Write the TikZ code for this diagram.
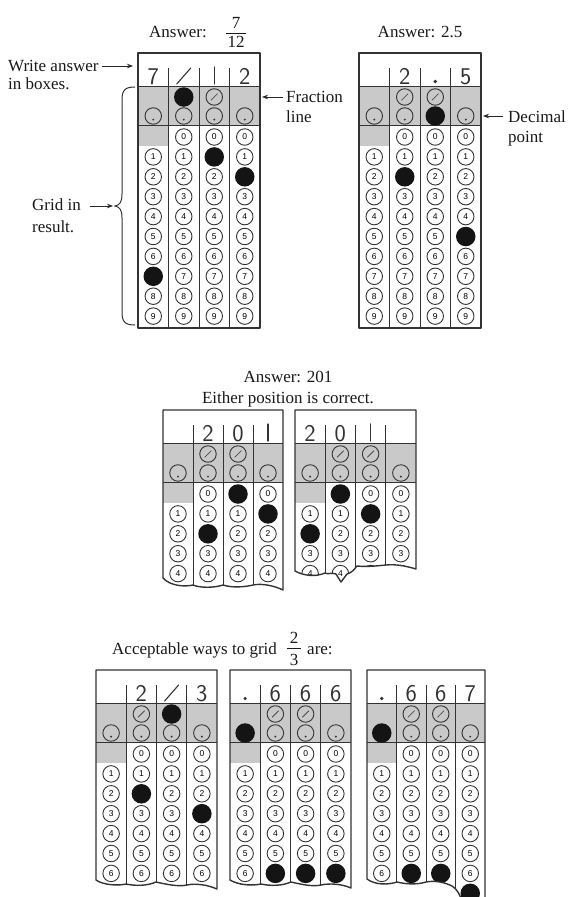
\documentclass[tikz,border=0pt]{standalone}
\usepackage{fontspec}
\setmainfont{Liberation Serif}
\newfontfamily\bubfont{Liberation Sans}
\usetikzlibrary{arrows.meta}
\definecolor{band}{gray}{0.79}
\definecolor{ink}{gray}{0.2}
\tikzset{
  gridframe/.style={draw=ink, line width=1.4pt, line join=round},
  sepline/.style={draw=ink, line width=0.9pt},
  bub/.style={circle, draw=ink, line width=0.9pt, minimum size=16.5pt, inner sep=0pt, font=\bubfont\fontsize{8.5}{9}\selectfont, text=black},
  bubslash/.style={bub, path picture={\draw[line width=0.6pt, ink] (path picture bounding box.center) ++(-3.3pt,-3.3pt) -- ++(6.6pt,6.6pt);}},
  bubdot/.style={bub, path picture={\fill[ink] (path picture bounding box.center) ++(0pt,-3.6pt) circle (1.1pt);}},
  filledbub/.style={circle, fill=black!92, minimum size=19.5pt, inner sep=0pt},
  lbl/.style={font=\fontsize{17}{19}\selectfont, inner sep=0pt, text=black!90},
  hw/.style={font=\sffamily\fontsize{24}{25}\selectfont, inner sep=0pt, anchor=base, text=ink},
  hwline/.style={draw=ink, line width=1.1pt, line cap=round},
  pointer/.style={-{Stealth[length=6pt,width=4.5pt]}, line width=0.9pt, draw=black!85},
}
\newcommand\omrgrid[7]{%
\def\gL{#2}\def\gT{#3}\def\gW{#4}\def\gN{#1}%
\begin{scope}
\clip (#2,#3) -- ({#2+4*#4},#3) #6 -- cycle;
\fill[band] (#2,{#3+33}) rectangle ({#2+4*#4},{#3+72});
\fill[band] (#2,{#3+72}) rectangle ({#2+#4},{#3+93});
\draw[sepline] (#2,{#3+33}) -- ({#2+4*#4},{#3+33});
\draw[sepline] (#2,{#3+72}) -- ({#2+4*#4},{#3+72});
\foreach \cl in {1,2,3} \draw[sepline] ({#2+\cl*#4},{#3+15}) -- ({#2+\cl*#4},{#3+520});
\foreach \cl in {2,3} \node[bubslash] (#1-s\cl) at ({#2+(\cl-0.5)*#4},{#3+44}) {};
\foreach \cl in {1,...,4} \node[bubdot] (#1-d\cl) at ({#2+(\cl-0.5)*#4},{#3+63}) {};
\foreach \rw in {0,...,#5} \foreach \cl in {2,3,4} \node[bub] (#1-\cl-\rw) at ({#2+(\cl-0.5)*#4},{#3+84+19.9*\rw}) {\rw};
\foreach \rw in {1,...,#5} \node[bub] (#1-1-\rw) at ({#2+0.5*#4},{#3+84+19.9*\rw}) {\rw};
#7
\end{scope}
\draw[gridframe] (#2,#3) -- ({#2+4*#4},#3) #6 -- cycle;
}
\newcommand\omrmark[2]{\node[filledbub] (\gN-m#1-#2) at ({\gL+(#1-0.5)*\gW},{\gT+84+19.9*#2}) {};}
\newcommand\omrmarkS[1]{\node[filledbub] (\gN-ms#1) at ({\gL+(#1-0.5)*\gW},{\gT+44}) {};}
\newcommand\omrmarkD[1]{\node[filledbub] (\gN-md#1) at ({\gL+(#1-0.5)*\gW},{\gT+63}) {};}
\newcommand\hwd[2]{\node[hw] (\gN-h#1) at ({\gL+(#1-0.5)*\gW},{\gT+31}) {#2};}
\newcommand\hwone[1]{\draw[hwline] ({\gL+(#1-0.5)*\gW},{\gT+14}) -- ({\gL+(#1-0.5)*\gW},{\gT+31});}
\newcommand\hwslash[1]{\draw[hwline] ({\gL+(#1-0.5)*\gW-7},{\gT+31}) -- ({\gL+(#1-0.5)*\gW+7},{\gT+15});}
\newcommand\hwdot[1]{\fill[ink] ({\gL+(#1-0.5)*\gW},{\gT+28.5}) circle (1.8pt);}
\begin{document}
\begin{tikzpicture}[x=1pt,y=-1pt]
\useasboundingbox (0,0) rectangle (571,897);
\fill[white] (0,0) rectangle (571,897);

% ---------- top labels ----------
\node[lbl, anchor=base west] (ans1) at (149,37.5) {Answer:};
\node[lbl, anchor=base] (ans1n) at (236,28.5) {7};
\node[lbl, anchor=base] (ans1d) at (236,47.5) {12};
\draw[line width=0.8pt, black!90] (226,33) -- (246,33);
\node[lbl, anchor=base] (ans2) at (420,37.5) {Answer: 2.5};

\node[lbl, anchor=base west] (wa1) at (8,71) {Write answer};
\node[lbl, anchor=base west] (wa2) at (8,89) {in boxes.};
\coordinate (wa-s) at (102,66); \coordinate (wa-e) at (133,66);
\draw[pointer] (wa-s) -- (wa-e);

\node[lbl, anchor=base west] (fl1) at (286,102) {Fraction};
\node[lbl, anchor=base west] (fl2) at (286,122) {line};
\coordinate (fl-s) at (283,97); \coordinate (fl-e) at (262,97);
\draw[pointer] (fl-s) -- (fl-e);

\node[lbl, anchor=base west] (dp1) at (508,122) {Decimal};
\node[lbl, anchor=base west] (dp2) at (508,142) {point};
\coordinate (dp-s) at (503,116); \coordinate (dp-e) at (483,116);
\draw[pointer] (dp-s) -- (dp-e);

\node[lbl, anchor=base west] (gr1) at (32,210) {Grid in};
\node[lbl, anchor=base west] (gr2) at (32,232) {result.};
\coordinate (gr-s) at (90,206); \coordinate (gr-e) at (113,206);
\draw[pointer] (gr-s) -- (gr-e);

\draw[line width=1pt, ink] (135,87) .. controls (125,87) and (122,90) .. (122,100) -- (122,194) .. controls (122,202) and (120,205) .. (115,206) .. controls (120,207) and (122,210) .. (122,218) -- (122,312) .. controls (122,322) and (125,325) .. (135,325);

% ---------- top grids ----------
\omrgrid{ga}{138}{53}{30.5}{9}{-- (260,328) -- (138,328)}{%
  \hwd{1}{7}\hwslash{2}\hwone{3}\hwd{4}{2}%
  \omrmark{1}{7}\omrmarkS{2}\omrmark{3}{1}\omrmark{4}{2}}
\omrgrid{gb}{359}{53}{30.5}{9}{-- (481,328) -- (359,328)}{%
  \hwd{2}{2}\hwdot{3}\hwd{4}{5}%
  \omrmark{2}{2}\omrmarkD{3}\omrmark{4}{5}}

% ---------- middle ----------
\node[lbl, anchor=base] (ans3) at (288,382) {Answer: 201};
\node[lbl, anchor=base] (ans3b) at (288,403) {Either position is correct.};

\omrgrid{gc}{163}{410}{30}{4}{-- (283,590) .. controls (275,586) and (262,583) .. (253,585) .. controls (245,587) and (232,588) .. (223,585) .. controls (214,588) and (200,588) .. (193,585) .. controls (185,587) and (170,586) .. (163,578)}{%
  \hwd{2}{2}\hwd{3}{0}\hwone{4}%
  \omrmark{2}{2}\omrmark{3}{0}\omrmark{4}{1}}
\omrgrid{gd}{295}{410}{30.25}{4}{-- (416,569) .. controls (406,566) and (396,564) .. (386,565) .. controls (376,566) and (366,567) .. (357,566) .. controls (354,570) and (351,573) .. (347,574) -- (341,582) -- (336,574) .. controls (331,572) and (328,575) .. (325,573) .. controls (316,577) and (304,576) .. (295,571)}{%
  \hwd{1}{2}\hwd{2}{0}\hwone{3}%
  \omrmark{1}{2}\omrmark{2}{0}\omrmark{3}{1}}

% ---------- bottom ----------
\node[lbl, anchor=base west] (acc) at (112,654) {Acceptable ways to grid};
\node[lbl, anchor=base] (accn) at (294,643.5) {2};
\node[lbl, anchor=base] (accd) at (294,665.5) {3};
\draw[line width=0.8pt, black!90] (287,648.5) -- (301,648.5);
\node[lbl, anchor=base west] (accare) at (307,654) {are:};

\omrgrid{ge}{96}{670}{30.25}{6}{-- (217,889) .. controls (208,885) and (196,883) .. (187,885) .. controls (178,887) and (165,884) .. (156,882) .. controls (147,886) and (135,886) .. (126,884) .. controls (118,886) and (103,885) .. (96,880)}{%
  \hwd{2}{2}\hwslash{3}\hwd{4}{3}%
  \omrmark{2}{2}\omrmarkS{3}\omrmark{4}{3}}
\omrgrid{gf}{230}{670}{30.25}{6}{-- (351,888) .. controls (342,884) and (330,883) .. (321,885) .. controls (312,887) and (300,884) .. (291,882) .. controls (282,886) and (270,886) .. (261,884) .. controls (252,886) and (238,885) .. (230,880)}{%
  \hwdot{1}\hwd{2}{6}\hwd{3}{6}\hwd{4}{6}%
  \omrmarkD{1}\omrmark{2}{6}\omrmark{3}{6}\omrmark{4}{6}}
\omrgrid{gg}{367}{670}{29.5}{7}{-- (485,905) -- (463,905) .. controls (460,894) and (457,889) .. (452,886) .. controls (446,883) and (436,880) .. (426,882) .. controls (416,885) and (405,884) .. (397,882) .. controls (388,885) and (375,885) .. (367,879)}{%
  \hwdot{1}\hwd{2}{6}\hwd{3}{6}\hwd{4}{7}%
  \omrmarkD{1}\omrmark{2}{6}\omrmark{3}{6}\omrmark{4}{7}}
\end{tikzpicture}
\end{document}
